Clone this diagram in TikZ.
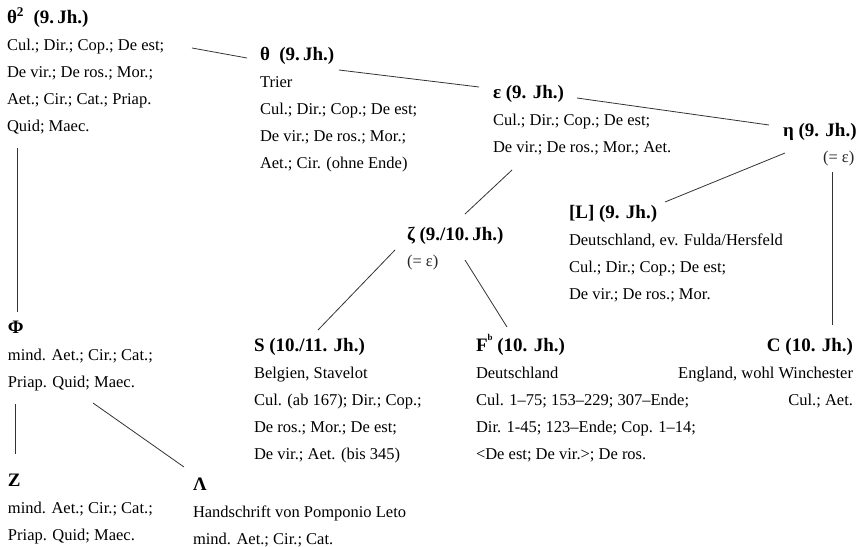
\documentclass[tikz,border=0pt]{standalone}
\usepackage{fontspec}
\setmainfont{Liberation Serif}
\begin{document}
\begin{tikzpicture}[x=1pt,y=-1pt,
  ms/.style={inner sep=0pt, outer sep=0pt, align=left, anchor=north west,
    font=\fontsize{16.5}{27}\selectfont},
  msr/.style={ms, align=right, anchor=north east},
  eq/.style={inner sep=0pt, outer sep=0pt, anchor=base west, text=black!85,
    font=\fontsize{16.5}{20}\selectfont},
  link/.style={draw=black!80, line width=0.8pt}]
\useasboundingbox (0,0) rectangle (858,546);
\newcommand{\st}{\rule{0pt}{15pt}}
\newcommand{\ttl}[1]{{\fontsize{19}{27}\selectfont\bfseries #1}}
\node[ms] (th2) at (7,8) {\st\ttl{θ\textsuperscript{2}\ \ (9.\,Jh.)}\\
  Cul.; Dir.; Cop.; De est;\\ De vir.; De ros.; Mor.;\\ Aet.; Cir.; Cat.; Priap.\\ Quid; Maec.};
\node[ms] (th) at (260,45) {\st\ttl{θ\ \ (9.\,Jh.)}\\ Trier\\
  Cul.; Dir.; Cop.; De est;\\ De vir.; De ros.; Mor.;\\ Aet.; Cir. (ohne Ende)};
\node[ms] (eps) at (493,83) {\st\ttl{ε (9. Jh.)}\\
  Cul.; Dir.; Cop.; De est;\\ De vir.; De ros.; Mor.; Aet.};
\node[ms] (eta) at (783,121) {\st\ttl{η (9. Jh.)}};
\node[eq] (etaeq) at (823,162.5) {(= ε)};
\node[ms] (zeta) at (407,225) {\st\ttl{ζ (9./10.\,Jh.)}};
\node[eq] (zetaeq) at (407,266.5) {(= ε)};
\node[ms] (L) at (569,203) {\st\ttl{[L] (9. Jh.)}\\ Deutschland, ev. Fulda/Hersfeld\\
  Cul.; Dir.; Cop.; De est;\\ De vir.; De ros.; Mor.};
\node[ms] (phi) at (8,318) {\st\ttl{Φ}\\ mind. Aet.; Cir.; Cat.;\\ Priap. Quid; Maec.};
\node[ms] (S) at (254,336) {\st\ttl{S (10./11. Jh.)}\\ Belgien, Stavelot\\
  Cul. (ab 167); Dir.; Cop.;\\ De ros.; Mor.; De est;\\ De vir.; Aet. (bis 345)};
\node[ms] (F) at (476,336) {\st\ttl{F\smash{\raisebox{11pt}{\fontsize{9}{9}\selectfont b}}\ (10. Jh.)}\\ Deutschland\\
  Cul. 1–75; 153–229; 307–Ende;\\ Dir. 1-45; 123–Ende; Cop. 1–14;\\ <De est; De vir.>; De ros.};
\node[msr] (C) at (853,336) {\st\ttl{C (10. Jh.)}\\ England, wohl Winchester\\ Cul.; Aet.};
\node[ms] (Z) at (8,471) {\st\ttl{Z}\\ mind. Aet.; Cir.; Cat.;\\ Priap. Quid; Maec.};
\node[ms] (Lam) at (193,475) {\st\ttl{Λ}\\ Handschrift von Pomponio Leto\\ mind. Aet.; Cir.; Cat.};
% connectors
\draw[link] ([shift={(185,40)}]th2.north west) -- ([shift={(-13,13)}]th.north west);
\draw[link] ([shift={(79,25)}]th.north west) -- ([shift={(-14,4)}]eps.north west);
\draw[link] ([shift={(84,15)}]eps.north west) -- ([shift={(-14,4)}]eta.north west);
\draw[link] ([shift={(19,87)}]eps.north west) -- ([shift={(58,-11)}]zeta.north west);
\draw[link] ([shift={(2,32)}]eta.north west) -- ([shift={(96,-1)}]L.north west);
\draw[link] ([shift={(49,51)}]eta.north west) -- ([shift={(-21,-11)}]C.north east);
\draw[link] ([shift={(-12,25)}]zeta.north west) -- ([shift={(64,-6)}]S.north west);
\draw[link] ([shift={(58,35)}]zeta.north west) -- ([shift={(31,-9)}]F.north west);
\draw[link] ([shift={(10,140)}]th2.north west) -- ([shift={(9,-6)}]phi.north west);
\draw[link] ([shift={(7,86)}]phi.north west) -- ([shift={(7,-17)}]Z.north west);
\draw[link] ([shift={(85,85)}]phi.north west) -- ([shift={(-9,-8)}]Lam.north west);
\end{tikzpicture}
\end{document}
